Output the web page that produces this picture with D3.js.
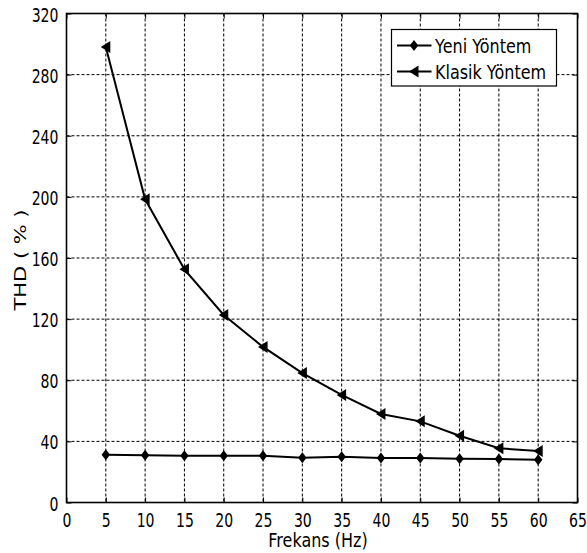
<!DOCTYPE html>
<html>
<head>
<meta charset="utf-8">
<script src="https://d3js.org/d3.v7.min.js"></script>
<style>
  html, body { margin: 0; padding: 0; background: #fff; }
  svg { display: block; }
</style>
</head>
<body>
<svg id="chart" width="587" height="553"></svg>
<script>
const freq = [5, 10, 15, 20, 25, 30, 35, 40, 45, 50, 55, 60];
const yeni = [31.3, 31.0, 30.6, 30.6, 30.6, 29.3, 30.0, 29.2, 29.1, 28.6, 28.5, 27.9];
const klasik = [298, 198.4, 152.6, 122.7, 101.8, 84.7, 70.4, 57.9, 53.1, 43.7, 35.5, 33.7];
const xTicks = [0, 5, 10, 15, 20, 25, 30, 35, 40, 45, 50, 55, 60, 65];
const yTicks = [0, 40, 80, 120, 160, 200, 240, 280, 320];
const seriesNames = ["Yeni Yöntem", "Klasik Yöntem"];
const xLabel = "Frekans (Hz)";
const yLabel = "THD ( % )";

const svg = d3.select("#chart");
const L = 66.5, R = 577.5, T = 13.5, B = 502.5;
const x = d3.scaleLinear().domain([0, 65]).range([L, R]);
const y = d3.scaleLinear().domain([0, 320]).range([B, T]);

const FONT = "'DejaVu Sans', sans-serif";

// grid
const grid = svg.append("g");
grid.selectAll("line.vx").data(xTicks.slice(1, -1)).enter().append("line")
  .attr("x1", d => x(d)).attr("x2", d => x(d)).attr("y1", T).attr("y2", B)
  .attr("stroke", "#000").attr("stroke-width", 1).attr("stroke-dasharray", "3,2");
grid.selectAll("line.hy").data(yTicks.slice(1, -1)).enter().append("line")
  .attr("x1", L).attr("x2", R).attr("y1", d => y(d)).attr("y2", d => y(d))
  .attr("stroke", "#000").attr("stroke-width", 1).attr("stroke-dasharray", "3,2");

// axes
const xAxis = svg.append("g").attr("transform", `translate(0,${B})`)
  .call(d3.axisBottom(x).tickValues(xTicks).tickSize(-5).tickSizeOuter(0).tickFormat(d3.format("d")));
const yAxis = svg.append("g").attr("transform", `translate(${L},0)`)
  .call(d3.axisLeft(y).tickValues(yTicks).tickSize(-5).tickSizeOuter(0).tickFormat(d3.format("d")));
svg.append("g").attr("transform", `translate(0,${T})`)
  .call(d3.axisTop(x).tickValues(xTicks).tickSize(-5).tickSizeOuter(0).tickFormat(""));
svg.append("g").attr("transform", `translate(${R},0)`)
  .call(d3.axisRight(y).tickValues(yTicks).tickSize(-5).tickSizeOuter(0).tickFormat(""));
svg.selectAll(".domain").remove();
svg.selectAll(".tick line").attr("stroke", "#000").attr("stroke-width", 1);

xAxis.selectAll("text")
  .attr("y", null).attr("dy", null)
  .attr("transform", "translate(0,24.5) scale(0.74,1)")
  .attr("font-family", FONT).attr("font-size", 19).attr("fill", "#000")
  .attr("text-anchor", "middle");
yAxis.selectAll("text")
  .attr("x", null).attr("dy", null)
  .attr("transform", "translate(-8,7.5) scale(0.74,1)")
  .attr("font-family", FONT).attr("font-size", 19).attr("fill", "#000")
  .attr("text-anchor", "end");

// frame
svg.append("rect").attr("x", L).attr("y", T).attr("width", R - L).attr("height", B - T)
  .attr("fill", "none").attr("stroke", "#000").attr("stroke-width", 1.6);

// labels
svg.append("text").text(xLabel)
  .attr("transform", `translate(${(L + R) / 2 - 4},546.5) scale(0.8,1)`)
  .attr("text-anchor", "middle").attr("font-family", FONT).attr("font-size", 20).attr("fill", "#000");
svg.append("text").text(yLabel)
  .attr("transform", `translate(26,${(T + B) / 2 + 2}) rotate(-90) scale(1.05,0.82)`)
  .attr("text-anchor", "middle").attr("font-family", FONT).attr("font-size", 20).attr("fill", "#000");

// markers
const diamond = (cx, cy) => `M${cx},${cy - 5.5}L${cx + 4.2},${cy}L${cx},${cy + 5.5}L${cx - 4.2},${cy}Z`;
const triLeft = (cx, cy) => `M${cx - 5},${cy}L${cx + 4.5},${cy - 6}L${cx + 4.5},${cy + 6}Z`;

const line = d3.line().x(d => x(d[0])).y(d => y(d[1]));
const series = [
  { name: seriesNames[0], vals: yeni, marker: diamond },
  { name: seriesNames[1], vals: klasik, marker: triLeft }
];
series.forEach(s => {
  const pts = freq.map((f, i) => [f, s.vals[i]]);
  svg.append("path").attr("d", line(pts)).attr("fill", "none")
    .attr("stroke", "#000").attr("stroke-width", 2);
  svg.append("g").selectAll("path").data(pts).enter().append("path")
    .attr("d", d => s.marker(x(d[0]), y(d[1]))).attr("fill", "#000");
});

// legend
const lg = svg.append("g");
lg.append("rect").attr("x", 391.5).attr("y", 29.5).attr("width", 165).attr("height", 56.5)
  .attr("fill", "#fff").attr("stroke", "#000").attr("stroke-width", 1.2);
series.forEach((s, i) => {
  const cy = 45.5 + i * 26;
  lg.append("line").attr("x1", 397).attr("x2", 431.5).attr("y1", cy).attr("y2", cy)
    .attr("stroke", "#000").attr("stroke-width", 2);
  lg.append("path").attr("d", s.marker(414, cy)).attr("fill", "#000");
  lg.append("text").text(s.name)
    .attr("transform", `translate(435,${cy + 7.5}) scale(0.8,1)`)
    .attr("font-family", FONT).attr("font-size", 20).attr("fill", "#000");
});
</script>
</body>
</html>
